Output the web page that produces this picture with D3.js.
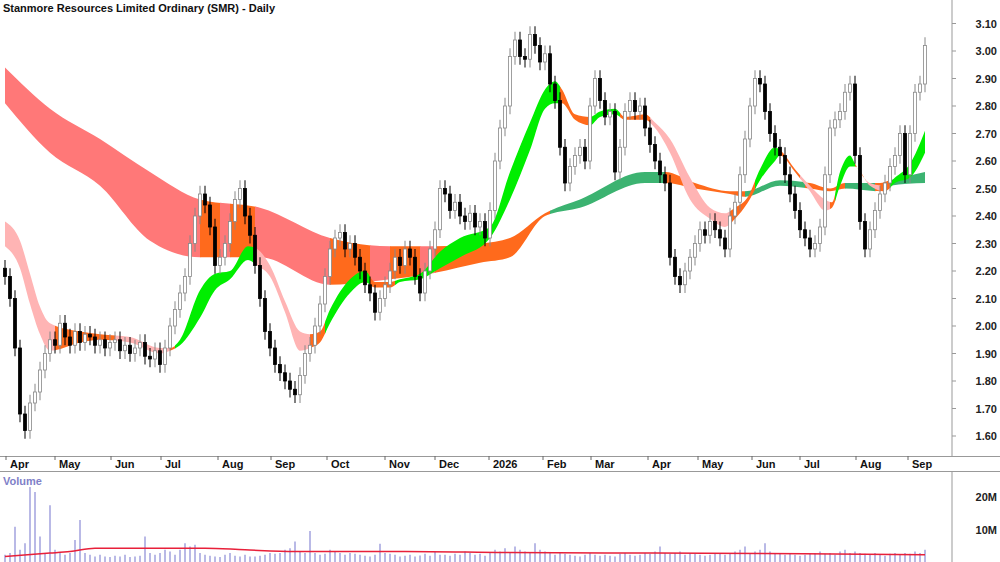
<!DOCTYPE html>
<html><head><meta charset="utf-8">
<script src="https://cdn.jsdelivr.net/npm/d3@7"></script>
<style>body{margin:0;background:#fff}text{font-family:Arial,"Liberation Sans",sans-serif}</style>
</head><body>
<svg id="chart" width="1000" height="562"></svg>
<script>
// daily closes (one bar per slot)
var closes = [2.18,2.10,1.92,1.68,1.62,1.72,1.76,1.84,1.90,1.95,1.93,2.01,1.96,1.93,1.98,1.94,1.97,1.96,1.93,1.95,
  1.92,1.94,1.95,1.91,1.93,1.90,1.92,1.94,1.89,1.88,1.91,1.86,1.92,2.00,2.06,2.12,2.18,2.30,2.40,2.48,
  2.44,2.36,2.22,2.25,2.30,2.38,2.46,2.50,2.40,2.33,2.22,2.10,1.98,1.92,1.86,1.83,1.80,1.77,1.75,1.82,
  1.90,1.93,2.00,2.08,2.18,2.28,2.32,2.34,2.28,2.30,2.25,2.20,2.15,2.12,2.05,2.10,2.15,2.20,2.25,2.22,
  2.28,2.25,2.18,2.12,2.20,2.28,2.35,2.50,2.48,2.42,2.45,2.40,2.38,2.41,2.36,2.38,2.32,2.42,2.60,2.72,
  2.80,2.98,3.04,2.98,2.97,3.06,3.02,2.96,2.99,2.88,2.82,2.65,2.52,2.58,2.62,2.65,2.60,2.80,2.90,2.82,
  2.76,2.78,2.56,2.65,2.78,2.82,2.78,2.80,2.72,2.66,2.60,2.55,2.52,2.25,2.18,2.15,2.20,2.25,2.30,2.35,
  2.33,2.38,2.35,2.32,2.28,2.40,2.45,2.55,2.68,2.80,2.90,2.88,2.78,2.70,2.65,2.62,2.55,2.48,2.42,2.35,
  2.32,2.28,2.30,2.36,2.55,2.72,2.75,2.78,2.85,2.88,2.62,2.38,2.28,2.35,2.42,2.48,2.52,2.58,2.62,2.70,
  2.55,2.70,2.85,2.88,3.02];
var volumes = [2.5,3,11,4,6,23,21.5,8,3,17.5, 4,3,2.5,3,7,13,3,2.5,2,2.5, 2,1.8,2.2,2,2.5,1.8,2,2.2,8,3,
  2.5,3,4,3.5,2.5,4,6,5,5.5,3, 2.5,2.2,2,1.8,2.5,3,2.2,2,2.5,2, 2,2.2,2.5,3,2.8,3,4,4.5,6.5,3.5,
  3,9.7,3,2.5,2.8,4,3.5,3,2.5,3, 2.8,2.5,2.2,2,2.5,5.8,3,2.8,2.5,2, 2.2,2.5,2,2.3,2.8,2.2,3.5,2.5,2.5,2.2,
  2.8,2.5,3.5,3,2.5,2.8,2.2,3,4,3.5, 4.5,3,5,4,3.5,3,6,4,3.5,3, 2.5,3,2.8,2.5,2.2,2,2.5,3,2.5,2.2,
  2.5,2.2,2,2.8,3,2.5,2.2,2.5,3,2.8, 3.5,5,3,2.8,3,3.5,2.5,3,2.8,2.5, 2.2,2.5,3,2.8,2.5,3,3.5,4,5,3,
  3.5,4,6,3.5,3,2.8,2.5,3,2.5,2.2, 2.5,2.8,3,3.5,2.8,3,2.5,3.5,4,3, 3.5,3,2.8,2.5,3,2.5,2.2,2.8,3,2.5,
  3,2.8,3.5,3,4];
// volume average [bar, millions]
var volAvg = [[0,2],[9,3],[13,3.5],[18,4.5],[32,4.5],[40,4.5],[48,4],[58,3.5],[80,3.5],[100,3.2],[130,3],[160,2.8],[184,2.5]];
// long-term ribbon [bar, top, bottom]
var longBand = [[0,2.94,2.81],[9,2.79,2.63],[19,2.68,2.51],[29,2.56,2.31],[39,2.46,2.25],[51,2.43,2.25],
  [65,2.32,2.15],[77,2.29,2.17],[85,2.29,2.19],[95,2.30,2.23],[101,2.32,2.25],[108,2.41,2.40],[115,2.46,2.43],
  [128,2.56,2.52],[132,2.56,2.52],[138,2.52,2.50],[145,2.49,2.48],[148,2.49,2.47],[155,2.53,2.51],
  [161,2.52,2.50],[165,2.50,2.49],[168,2.52,2.50],[175,2.52,2.49],[177,2.53,2.51],[184,2.56,2.52]];
var longColors = [[0,39,"red"],[39,43,"orange"],[43,45,"red"],[45,50,"orange"],[50,65,"red"],[65,73,"orange"],
  [73,77,"red"],[77,83,"orange"],[83,86,"red"],[86,109,"orange"],[109,132,"dgreen"],[132,148,"orange"],
  [148,160,"dgreen"],[160,168,"orange"],[168,174,"dgreen"],[174,177,"orange"],[177,185,"dgreen"]];
// short-term ribbon [bar, top, bottom]
var shortBand = [[0,2.38,2.29],[3,2.31,2.21],[5,2.19,2.08],[7,2.07,1.97],[9,2.01,1.91],[15,1.98,1.94],
  [19,1.97,1.95],[25,1.96,1.94],[31,1.92,1.90],[33,1.92,1.91],[35,1.95,1.93],[39,2.13,2.03],[42,2.19,2.13],
  [45,2.20,2.17],[48.6,2.29,2.24],[50.4,2.28,2.22],[53,2.22,2.18],[56,2.09,2.05],[59,1.98,1.91],[61,1.97,1.92],
  [63,1.98,1.94],[65,2.06,2.01],[69,2.17,2.12],[72,2.20,2.16],[74,2.16,2.14],[77,2.16,2.14],[79,2.17,2.16],
  [83,2.19,2.17],[87,2.27,2.21],[91,2.32,2.25],[97,2.36,2.32],[101,2.56,2.46],[105,2.74,2.64],[108,2.86,2.79],
  [110,2.89,2.81],[111.4,2.86,2.81],[114,2.77,2.75],[117,2.76,2.73],[119,2.78,2.76],[122,2.79,2.77],
  [124,2.76,2.75],[128,2.77,2.75],[130,2.74,2.72],[133,2.68,2.63],[137,2.54,2.46],[141,2.43,2.39],
  [144,2.41,2.36],[146,2.43,2.39],[148.6,2.47,2.45],[151,2.57,2.53],[154,2.65,2.60],[155,2.64,2.62],
  [158,2.57,2.56],[161,2.51,2.49],[164,2.46,2.42],[165.4,2.45,2.43],[167,2.56,2.51],[169,2.62,2.58],
  [170,2.59,2.58],[173,2.52,2.51],[176,2.51,2.49],[178,2.54,2.52],[181,2.59,2.54],[184,2.71,2.63]];
var shortColors = [[0,10,"pink"],[10,22,"orange"],[22,33,"pink"],[33,34,"orange"],[34,50,"green"],[50,61,"pink"],
  [61,64,"orange"],[64,73,"green"],[73,78,"orange"],[78,111,"green"],[111,117,"orange"],[117,123,"green"],
  [123,129,"orange"],[129,145,"pink"],[145,150,"orange"],[150,155,"green"],[155,159,"orange"],[159,165,"pink"],
  [165,166,"orange"],[166,170,"green"],[170,172,"orange"],[172,175,"pink"],[175,177,"orange"],[177,185,"green"]];
var months = [[0.6,"Apr"],[10.4,"May"],[21.6,"Jun"],[31.6,"Jul"],[43,"Aug"],[53.6,"Sep"],[64.8,"Oct"],[76.4,"Nov"],
  [86.4,"Dec"],[97.2,"2026"],[108,"Feb"],[117.6,"Mar"],[129,"Apr"],[139,"May"],[149.8,"Jun"],[159.4,"Jul"],
  [170.6,"Aug"],[181,"Sep"]];
var priceTicks = [1.6,1.7,1.8,1.9,2.0,2.1,2.2,2.3,2.4,2.5,2.6,2.7,2.8,2.9,3.0,3.1];
var volTicks = [10,20];

var palette = {red:"#ff7878", orange:"#ff6a1c", dgreen:"#3cb371", pink:"#ffb4b4", green:"#00ee00"};

var svg = d3.select("#chart");
var x = d3.scaleLinear().domain([0, 184]).range([5, 925]);
var y = d3.scaleLinear().domain([1.6, 3.0]).range([436, 51]);
var yv = d3.scaleLinear().domain([0, 10]).range([563, 530]);

// ribbons, coloured by segment
function drawBand(band, colors, id) {
  var area = d3.area().curve(d3.curveMonotoneX)
    .x(function(d) { return x(d[0]) })
    .y0(function(d) { return y(d[2]) })
    .y1(function(d) { return y(d[1]) });
  colors.forEach(function(c, i) {
    var x0 = i == 0 ? x(c[0]) - 10 : x(c[0]);
    var x1 = i == colors.length - 1 ? x(c[1]) + 10 : x(c[1]) + 0.5;
    svg.append("clipPath").attr("id", id + i).append("rect")
      .attr("x", x0).attr("y", 0).attr("width", x1 - x0).attr("height", 460);
    svg.append("path").datum(band).attr("d", area)
      .attr("clip-path", "url(#" + id + i + ")").attr("fill", palette[c[2]]);
  });
}
drawBand(longBand, longColors, "lc");
drawBand(shortBand, shortColors, "sc");

// candles
var candles = svg.append("g").selectAll("g").data(closes).enter().append("g");
function openOf(i) { return i == 0 ? closes[0] + 0.03 : closes[i - 1] }
candles.append("line")
  .attr("x1", function(d, i) { return x(i) }).attr("x2", function(d, i) { return x(i) })
  .attr("y1", function(d, i) { return y(Math.max(d, openOf(i)) + 0.03) })
  .attr("y2", function(d, i) { return y(Math.min(d, openOf(i)) - 0.03) })
  .attr("stroke", function(d, i) { return d >= openOf(i) ? "#888" : "#000" });
candles.append("rect")
  .attr("x", function(d, i) { return x(i) - 1.5 }).attr("width", 3)
  .attr("y", function(d, i) { return y(Math.max(d, openOf(i))) })
  .attr("height", function(d, i) { return Math.max(1, Math.abs(y(d) - y(openOf(i)))) })
  .attr("fill", function(d, i) { return d >= openOf(i) ? "#fff" : "#000" })
  .attr("stroke", function(d, i) { return d >= openOf(i) ? "#888" : "#000" })
  .attr("stroke-width", 0.8);

// axes / frames
svg.append("line").attr("x1", 952).attr("x2", 952).attr("y1", 0).attr("y2", 456).attr("stroke", "#999");
svg.append("line").attr("x1", 0).attr("x2", 1000).attr("y1", 456.5).attr("y2", 456.5).attr("stroke", "#999");
svg.append("line").attr("x1", 0).attr("x2", 1000).attr("y1", 471.5).attr("y2", 471.5).attr("stroke", "#999");
svg.append("line").attr("x1", 952).attr("x2", 952).attr("y1", 472).attr("y2", 562).attr("stroke", "#999");

svg.append("g").selectAll("text").data(priceTicks).enter().append("text")
  .attr("x", 997).attr("y", function(d) { return y(d) + 4 }).attr("text-anchor", "end")
  .attr("font-size", 11).attr("font-weight", "bold").attr("fill", "#222")
  .text(function(d) { return d.toFixed(2) });
svg.append("g").selectAll("line").data(priceTicks).enter().append("line")
  .attr("x1", 952).attr("x2", 956).attr("y1", function(d) { return y(d) }).attr("y2", function(d) { return y(d) })
  .attr("stroke", "#999");

var mg = svg.append("g").selectAll("g").data(months).enter().append("g");
mg.append("line").attr("x1", function(d) { return x(d[0]) - 2 }).attr("x2", function(d) { return x(d[0]) - 2 })
  .attr("y1", 456).attr("y2", 460).attr("stroke", "#666");
mg.append("text").attr("x", function(d) { return x(d[0]) + 2 }).attr("y", 468)
  .attr("font-size", 11).attr("font-weight", "bold").attr("fill", "#111").text(function(d) { return d[1] });

// volume
svg.append("g").selectAll("line").data(volumes).enter().append("line")
  .attr("x1", function(d, i) { return x(i) }).attr("x2", function(d, i) { return x(i) })
  .attr("y1", yv(0)).attr("y2", function(d) { return yv(d) })
  .attr("stroke", "#8a8ad6").attr("stroke-width", 1.2);
svg.append("path").datum(volAvg)
  .attr("d", d3.line().curve(d3.curveMonotoneX).x(function(d) { return x(d[0]) }).y(function(d) { return yv(d[1]) }))
  .attr("fill", "none").attr("stroke", "#e8203a").attr("stroke-width", 1.5);
svg.append("g").selectAll("text").data(volTicks).enter().append("text")
  .attr("x", 997).attr("y", function(d) { return yv(d) + 4 }).attr("text-anchor", "end")
  .attr("font-size", 11).attr("font-weight", "bold").attr("fill", "#222").text(function(d) { return d + "M" });
svg.append("text").attr("x", 3).attr("y", 485).attr("font-size", 11).attr("font-weight", "bold")
  .attr("fill", "#8080c8").text("Volume");

svg.append("text").attr("x", 3).attr("y", 12).attr("font-size", 11).attr("font-weight", "bold")
  .attr("fill", "#111").text("Stanmore Resources Limited Ordinary (SMR) - Daily");
</script>
</body></html>
